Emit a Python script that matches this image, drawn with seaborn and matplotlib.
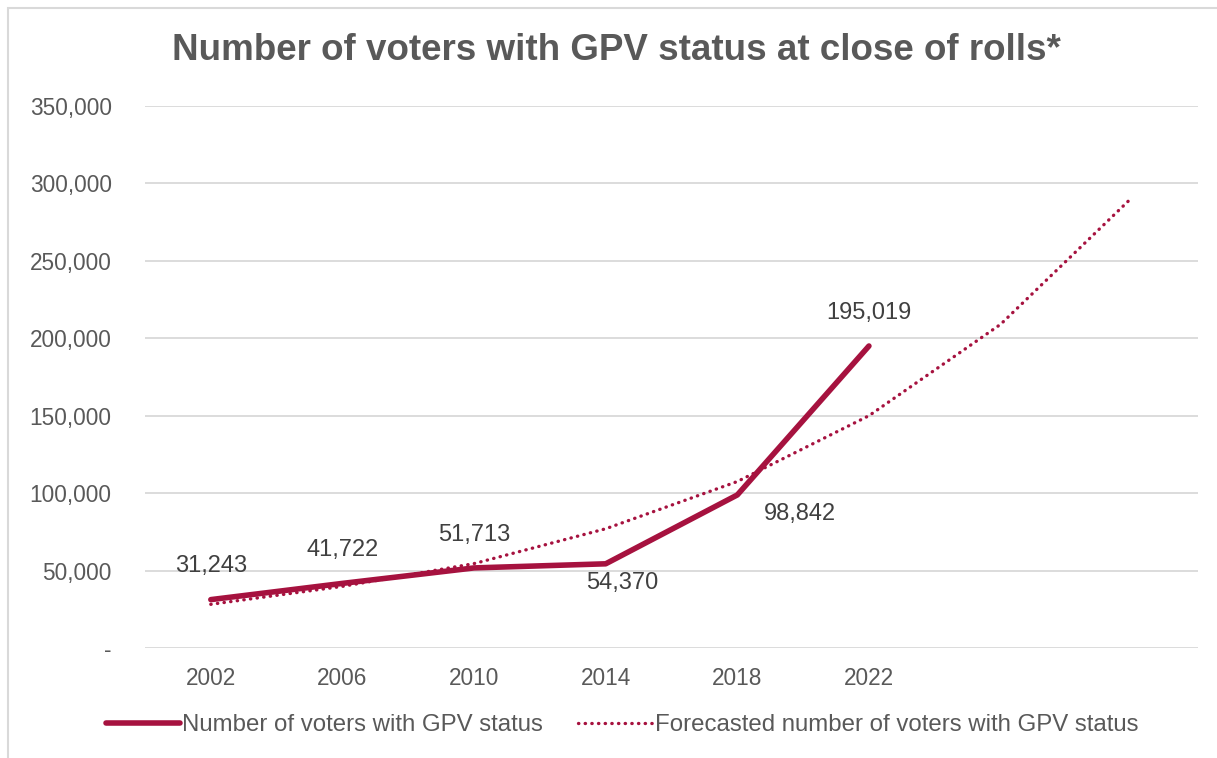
import matplotlib
matplotlib.use('Agg')
import matplotlib.pyplot as plt
import seaborn as sns
import pandas as pd
from matplotlib.patches import Rectangle
from matplotlib.ticker import FuncFormatter

# Data
years = [2002, 2006, 2010, 2014, 2018, 2022]
voters = [31243, 41722, 51713, 54370, 98842, 195019]
forecast_years = [2002, 2006, 2010, 2014, 2018, 2022, 2026, 2030]
forecast = [28200, 39800, 54500, 77000, 107500, 150000, 209000, 291000]

# label placement (offset points) for each data label
label_offsets = [(0, 24), (0, 24), (0, 24), (12, -14), (45, -14), (0, 24)]

crimson = '#A6123F'
grey_text = '#595959'

sns.set_style('white')
plt.rcParams['font.family'] = ['Liberation Sans', 'DejaVu Sans']

df = pd.DataFrame({'Year': years, 'Voters': voters})
df_fc = pd.DataFrame({'Year': forecast_years, 'Forecast': forecast})

fig = plt.figure(figsize=(12.17, 7.58), dpi=100)
ax = fig.add_axes([145 / 1217, 1 - 648 / 758, (1198 - 145) / 1217, (648 - 106) / 758])

sns.lineplot(data=df, x='Year', y='Voters', ax=ax, color=crimson, linewidth=4,
             solid_capstyle='round', label='Number of voters with GPV status')
sns.lineplot(data=df_fc, x='Year', y='Forecast', ax=ax, color=crimson, linewidth=2.4,
             linestyle=(0, (0.1, 1.9)), dash_capstyle='round',
             label='Forecasted number of voters with GPV status')

# data labels
for yr, v, off in zip(years, voters, label_offsets):
    ax.annotate(f'{v:,}', (yr, v), xytext=off, textcoords='offset points',
                ha='center', va='center', fontsize=17, color='#404040')

ax.set_xlim(2000, 2032)
ax.set_ylim(0, 350000)
ax.set_xticks(years)
ax.set_xticklabels([str(y) for y in years])
ax.set_yticks(range(0, 350001, 50000))
ax.yaxis.set_major_formatter(FuncFormatter(lambda v, p: '-' if v == 0 else f'{int(v):,}'))
ax.tick_params(axis='both', length=0, labelsize=16.3, labelcolor=grey_text)
ax.tick_params(axis='x', pad=14)
ax.tick_params(axis='y', pad=24)
ax.grid(axis='y', color='#D9D9D9', linewidth=1.3)
ax.set_axisbelow(True)
for s in ax.spines.values():
    s.set_visible(False)
ax.set_xlabel('')
ax.set_ylabel('')

fig.suptitle('Number of voters with GPV status at close of rolls*', x=616 / 1217, y=1 - 51 / 758,
             va='center', fontsize=26.5, fontweight='bold', color=grey_text)

leg = ax.legend(loc='center', bbox_to_anchor=(622 / 1217, 1 - 725 / 758), bbox_transform=fig.transFigure,
                ncol=2, frameon=False, fontsize=17.3, handlelength=3.1, handletextpad=0.1,
                columnspacing=1.45)
for t in leg.get_texts():
    t.set_color(grey_text)

# chart border
fig.patches.append(Rectangle((8 / 1217, -0.01), 1.02, 1 - 8 / 758 + 0.01, transform=fig.transFigure,
                             fill=False, edgecolor='#D9D9D9', linewidth=1.5))

fig.savefig('out.png', dpi=100)
